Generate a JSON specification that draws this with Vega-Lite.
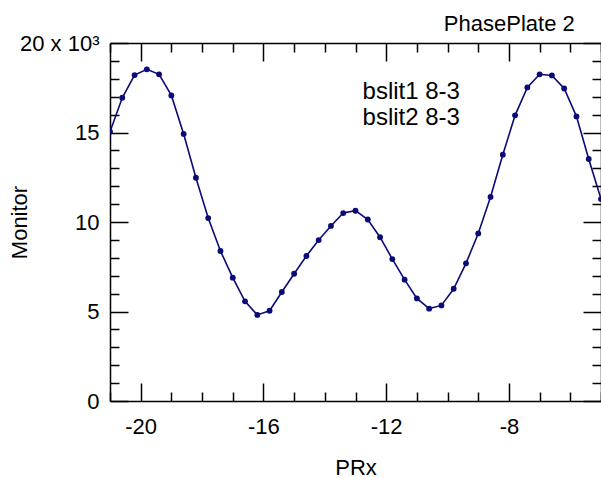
{
  "$schema": "https://vega.github.io/schema/vega-lite/v6.json",
  "width": 491,
  "height": 358,
  "autosize": {"type": "none"},
  "padding": {"left": 110, "top": 43, "right": 0, "bottom": 77},
  "background": "white",
  "config": {
    "view": {"stroke": null},
    "font": "Liberation Sans",
    "axis": {
      "domainColor": "black",
      "tickColor": "black",
      "labelColor": "black",
      "titleColor": "black",
      "labelFont": "Liberation Sans",
      "titleFont": "Liberation Sans",
      "labelFontSize": 22,
      "titleFontSize": 22,
      "titleFontWeight": "normal",
      "grid": false,
      "domainWidth": 1.5,
      "tickWidth": 1.5
    }
  },
  "title": {
    "text": "PhasePlate 2",
    "anchor": "end",
    "fontSize": 22,
    "fontWeight": "normal",
    "font": "Liberation Sans",
    "color": "black",
    "dx": -29,
    "offset": -21,
    "baseline": "alphabetic"
  },
  "data": {
    "values": [
      {"PRx": -21.0, "Monitor": 15040},
      {"PRx": -20.6, "Monitor": 16940},
      {"PRx": -20.2, "Monitor": 18210},
      {"PRx": -19.8, "Monitor": 18530},
      {"PRx": -19.4, "Monitor": 18250},
      {"PRx": -19.0, "Monitor": 17070},
      {"PRx": -18.6, "Monitor": 14920},
      {"PRx": -18.2, "Monitor": 12470},
      {"PRx": -17.8, "Monitor": 10220},
      {"PRx": -17.4, "Monitor": 8380},
      {"PRx": -17.0, "Monitor": 6890},
      {"PRx": -16.6, "Monitor": 5570},
      {"PRx": -16.2, "Monitor": 4810},
      {"PRx": -15.8, "Monitor": 5040},
      {"PRx": -15.4, "Monitor": 6090},
      {"PRx": -15.0, "Monitor": 7110},
      {"PRx": -14.6, "Monitor": 8100},
      {"PRx": -14.2, "Monitor": 8990},
      {"PRx": -13.8, "Monitor": 9780},
      {"PRx": -13.4, "Monitor": 10500},
      {"PRx": -13.0, "Monitor": 10630},
      {"PRx": -12.6, "Monitor": 10140},
      {"PRx": -12.2, "Monitor": 9150},
      {"PRx": -11.8, "Monitor": 7930},
      {"PRx": -11.4, "Monitor": 6780},
      {"PRx": -11.0, "Monitor": 5730},
      {"PRx": -10.6, "Monitor": 5160},
      {"PRx": -10.2, "Monitor": 5340},
      {"PRx": -9.8, "Monitor": 6270},
      {"PRx": -9.4, "Monitor": 7690},
      {"PRx": -9.0, "Monitor": 9360},
      {"PRx": -8.6, "Monitor": 11400},
      {"PRx": -8.2, "Monitor": 13760},
      {"PRx": -7.8, "Monitor": 15960},
      {"PRx": -7.4, "Monitor": 17520},
      {"PRx": -7.0, "Monitor": 18250},
      {"PRx": -6.6, "Monitor": 18190},
      {"PRx": -6.2, "Monitor": 17460},
      {"PRx": -5.8, "Monitor": 15900},
      {"PRx": -5.4, "Monitor": 13520},
      {"PRx": -5.0, "Monitor": 11280}
    ]
  },
  "layer": [
    {
      "mark": {"type": "line", "color": "#0a0a78", "strokeWidth": 1.6, "clip": true},
      "encoding": {
        "x": {
          "field": "PRx", "type": "quantitative",
          "scale": {"domain": [-21, -5], "nice": false, "zero": false},
          "axis": {
            "orient": "bottom", "values": [-20, -16, -12, -8],
            "tickSize": -18, "labelPadding": 33,
            "labelExpr": "toString(datum.value)",
            "title": "PRx", "titleY": 73, "titleBaseline": "alphabetic"
          }
        },
        "y": {
          "field": "Monitor", "type": "quantitative",
          "scale": {"domain": [0, 20000], "nice": false, "zero": true},
          "axis": {
            "orient": "left", "values": [0, 5000, 10000, 15000, 20000],
            "tickSize": -18, "labelPadding": 29,
            "labelExpr": "datum.value == 20000 ? '20 x 10³' : format(datum.value / 1000, 'd')",
            "title": "Monitor", "titleX": -91, "titleBaseline": "middle"
          }
        }
      }
    },
    {
      "mark": {"type": "point", "filled": true, "color": "#0a0a78", "size": 34, "opacity": 1, "clip": true},
      "encoding": {
        "x": {
          "field": "PRx", "type": "quantitative",
          "axis": {
            "orient": "bottom", "values": [-21, -19, -18, -17, -15, -14, -13, -11, -10, -9, -7, -6, -5],
            "tickSize": -9, "labels": false, "domain": false, "title": null
          }
        },
        "y": {
          "field": "Monitor", "type": "quantitative",
          "axis": {
            "orient": "left", "values": [1000, 2000, 3000, 4000, 6000, 7000, 8000, 9000, 11000, 12000, 13000, 14000, 16000, 17000, 18000, 19000],
            "tickSize": -9, "labels": false, "domain": false, "title": null
          }
        }
      }
    },
    {
      "data": {"values": [{}]},
      "mark": {"type": "text", "align": "left", "baseline": "alphabetic", "fontSize": 24, "font": "Liberation Sans", "color": "black", "lineHeight": 26, "text": ["bslit1 8-3", "bslit2 8-3"]},
      "encoding": {
        "x": {
          "datum": -12.77, "type": "quantitative",
          "axis": {
            "orient": "top", "values": [-20, -16, -12, -8],
            "tickSize": -18, "labels": false, "title": null
          }
        },
        "y": {
          "datum": 16870, "type": "quantitative",
          "axis": {
            "orient": "right", "values": [0, 5000, 10000, 15000, 20000],
            "tickSize": -18, "labels": false, "title": null
          }
        }
      }
    },
    {
      "mark": {"type": "point", "opacity": 0},
      "encoding": {
        "x": {
          "field": "PRx", "type": "quantitative",
          "axis": {
            "orient": "top", "values": [-21, -19, -18, -17, -15, -14, -13, -11, -10, -9, -7, -6, -5],
            "tickSize": -9, "labels": false, "domain": false, "title": null
          }
        },
        "y": {
          "field": "Monitor", "type": "quantitative",
          "axis": {
            "orient": "right", "values": [1000, 2000, 3000, 4000, 6000, 7000, 8000, 9000, 11000, 12000, 13000, 14000, 16000, 17000, 18000, 19000],
            "tickSize": -9, "labels": false, "domain": false, "title": null
          }
        }
      }
    }
  ],
  "resolve": {"axis": {"x": "independent", "y": "independent"}}
}
